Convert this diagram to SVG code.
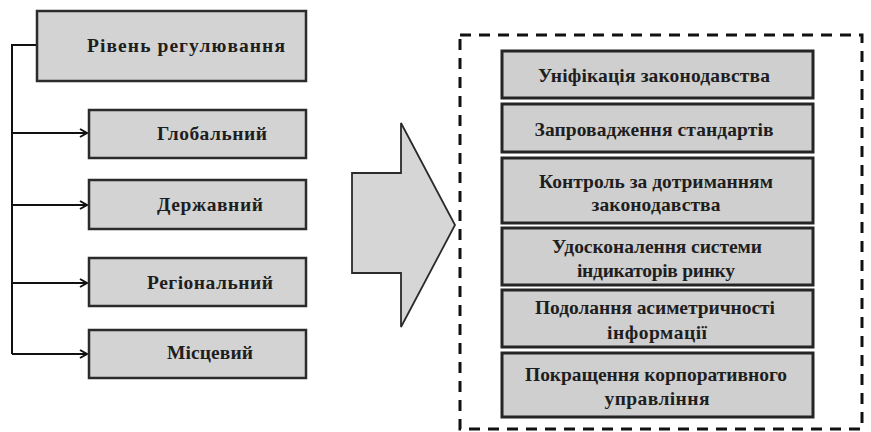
<svg xmlns="http://www.w3.org/2000/svg" width="871" height="432" viewBox="0 0 871 432">
<style>
.box{fill:#d3d3d3;stroke:#2b2b2b;stroke-width:2.5}
.rbox{fill:#cfcfcf;stroke:#252525;stroke-width:3}
.t{font-family:"Liberation Serif","DejaVu Serif",serif;font-weight:bold;font-size:19.5px;fill:#1e1e1e;text-anchor:middle}
.c{fill:none;stroke:#111;stroke-width:2}
</style>
<defs>
<marker id="ah" markerWidth="10" markerHeight="10" refX="8" refY="5" orient="auto" markerUnits="userSpaceOnUse">
<path d="M1,1 L8,5 L1,9" fill="none" stroke="#111" stroke-width="2"/>
</marker>
</defs>
<rect width="871" height="432" fill="#fff"/>
<g id="connectors">
<path class="c" d="M37,45 H12 V354"/>
<path class="c" d="M12,133 H87" marker-end="url(#ah)"/>
<path class="c" d="M12,205 H87" marker-end="url(#ah)"/>
<path class="c" d="M12,283 H87" marker-end="url(#ah)"/>
<path class="c" d="M12,354 H87" marker-end="url(#ah)"/>
</g>
<g id="n-level"><rect class="box" x="37" y="11" width="269" height="70"/><text class="t" x="186" y="52" textLength="198">Рівень регулювання</text></g>
<g id="n-global"><rect class="box" x="89" y="110" width="217" height="48"/><text class="t" x="212" y="140" textLength="110">Глобальний</text></g>
<g id="n-state"><rect class="box" x="89" y="180" width="217" height="49"/><text class="t" x="210" y="211" textLength="106">Державний</text></g>
<g id="n-regional"><rect class="box" x="89" y="258" width="217" height="48"/><text class="t" x="210" y="289" textLength="126">Регіональний</text></g>
<g id="n-local"><rect class="box" x="89" y="330" width="217" height="48"/><text class="t" x="210" y="359" textLength="86">Місцевий</text></g>
<g id="big-arrow"><polygon points="352,173 401,173 401,123 455,225 401,327 401,273 352,273" fill="#d6d6d6" stroke="#2b2b2b" stroke-width="1.8"/></g>
<g id="group-frame"><rect x="460" y="35" width="402" height="394" fill="none" stroke="#111" stroke-width="3" stroke-dasharray="11 8"/></g>
<g id="r1"><rect class="rbox" x="502" y="51" width="311" height="47"/><text class="t" x="654" y="82" textLength="232">Уніфікація законодавства</text></g>
<g id="r2"><rect class="rbox" x="502" y="104" width="311" height="48"/><text class="t" x="654" y="136" textLength="239">Запровадження стандартів</text></g>
<g id="r3"><rect class="rbox" x="502" y="158" width="311" height="65"/><text class="t" x="656" y="188" textLength="234">Контроль за дотриманням</text><text class="t" x="656" y="211" textLength="129">законодавства</text></g>
<g id="r4"><rect class="rbox" x="502" y="228" width="311" height="57"/><text class="t" x="657" y="253" textLength="210">Удосконалення системи</text><text class="t" x="656" y="277" textLength="158">індикаторів ринку</text></g>
<g id="r5"><rect class="rbox" x="502" y="290" width="311" height="57"/><text class="t" x="655" y="314" textLength="240">Подолання асиметричності</text><text class="t" x="657" y="339" textLength="100">інформації</text></g>
<g id="r6"><rect class="rbox" x="502" y="353" width="311" height="64"/><text class="t" x="656" y="381" textLength="262">Покращення корпоративного</text><text class="t" x="657" y="405" textLength="105">управління</text></g>
</svg>
